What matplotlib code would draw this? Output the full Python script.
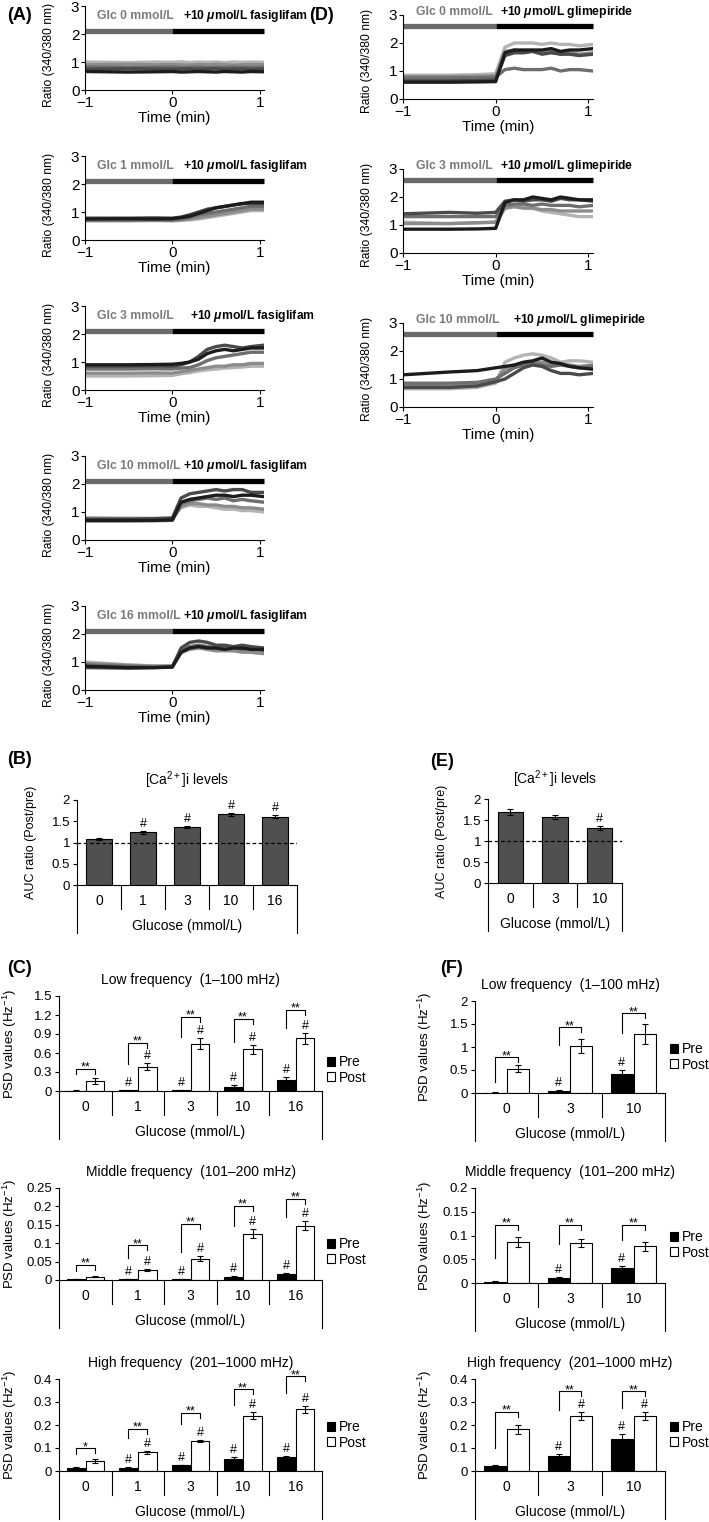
import numpy as np
import matplotlib
matplotlib.use('Agg')
import matplotlib.pyplot as plt
from matplotlib.patches import Patch

plt.rcParams['font.family'] = ['Liberation Sans', 'DejaVu Sans']
plt.rcParams['mathtext.fontset'] = 'custom'
plt.rcParams['mathtext.rm'] = 'Liberation Sans'
plt.rcParams['mathtext.it'] = 'Liberation Sans:italic:bold'
plt.rcParams['mathtext.bf'] = 'Liberation Sans:bold'
plt.rcParams['axes.linewidth'] = 0.8

# ---- Ca2+ traces (ratio 340/380), read at these time points (min) ----
t_min = [-1, -0.5, -0.2, 0, 0.1, 0.2, 0.3, 0.4, 0.5, 0.6, 0.7, 0.8, 0.9, 1.05]
trace_cols = ['#b4b4b4', '#8c8c8c', '#6e6e6e', '#4a4a4a', '#1c1c1c']

# fasiglifam, order: light, gray, mid, dark, black
fas_glc0 = [[1.0, 0.98, 1.0, 0.99, 1.01, 0.98, 1.0, 0.99, 1.0, 0.98, 1.0, 0.99, 1.0, 0.99],
            [0.9, 0.92, 0.9, 0.91, 0.9, 0.89, 0.91, 0.9, 0.92, 0.9, 0.89, 0.9, 0.91, 0.9],
            [0.82, 0.8, 0.81, 0.82, 0.8, 0.81, 0.82, 0.8, 0.81, 0.8, 0.82, 0.81, 0.8, 0.81],
            [0.74, 0.76, 0.75, 0.74, 0.75, 0.76, 0.74, 0.75, 0.76, 0.74, 0.75, 0.75, 0.74, 0.75],
            [0.66, 0.64, 0.65, 0.66, 0.64, 0.65, 0.66, 0.65, 0.64, 0.66, 0.65, 0.64, 0.66, 0.65]]
fas_glc1 = [[0.68, 0.68, 0.69, 0.68, 0.7, 0.72, 0.75, 0.8, 0.85, 0.9, 0.95, 1.0, 1.05, 1.05],
            [0.7, 0.7, 0.71, 0.7, 0.72, 0.75, 0.8, 0.85, 0.9, 0.95, 1.0, 1.05, 1.1, 1.1],
            [0.72, 0.72, 0.73, 0.72, 0.75, 0.8, 0.9, 0.95, 1.0, 1.05, 1.1, 1.15, 1.2, 1.2],
            [0.78, 0.78, 0.79, 0.78, 0.82, 0.9, 1.0, 1.1, 1.15, 1.2, 1.25, 1.3, 1.3, 1.3],
            [0.75, 0.76, 0.75, 0.76, 0.8, 0.85, 0.95, 1.05, 1.15, 1.2, 1.25, 1.3, 1.35, 1.35]]
fas_glc3 = [[0.5, 0.5, 0.51, 0.52, 0.58, 0.62, 0.68, 0.72, 0.75, 0.78, 0.8, 0.82, 0.85, 0.85],
            [0.6, 0.6, 0.61, 0.6, 0.65, 0.7, 0.75, 0.8, 0.85, 0.85, 0.9, 0.9, 0.95, 0.95],
            [0.75, 0.75, 0.76, 0.75, 0.78, 0.8, 0.9, 1.05, 1.15, 1.2, 1.25, 1.3, 1.35, 1.35],
            [0.85, 0.85, 0.86, 0.85, 0.9, 1.0, 1.2, 1.45, 1.55, 1.6, 1.55, 1.5, 1.55, 1.6],
            [0.9, 0.9, 0.91, 0.92, 0.95, 1.0, 1.1, 1.3, 1.4, 1.45, 1.4, 1.45, 1.5, 1.5]]
fas_glc10 = [[0.8, 0.78, 0.78, 0.8, 1.15, 1.25, 1.2, 1.2, 1.15, 1.1, 1.1, 1.05, 1.05, 1.0],
             [0.72, 0.72, 0.72, 0.74, 1.2, 1.3, 1.3, 1.25, 1.25, 1.2, 1.2, 1.15, 1.15, 1.1],
             [0.68, 0.68, 0.69, 0.7, 1.3, 1.4, 1.45, 1.5, 1.45, 1.5, 1.4, 1.45, 1.4, 1.35],
             [0.75, 0.75, 0.76, 0.78, 1.5, 1.65, 1.7, 1.75, 1.8, 1.75, 1.8, 1.8, 1.7, 1.7],
             [0.7, 0.7, 0.7, 0.72, 1.35, 1.45, 1.5, 1.55, 1.6, 1.6, 1.55, 1.6, 1.6, 1.55]]
fas_glc16 = [[1.0, 0.9, 0.86, 0.85, 1.3, 1.5, 1.6, 1.55, 1.5, 1.45, 1.4, 1.4, 1.35, 1.3],
             [0.95, 0.88, 0.85, 0.86, 1.35, 1.45, 1.5, 1.45, 1.4, 1.4, 1.4, 1.35, 1.35, 1.3],
             [0.9, 0.85, 0.82, 0.84, 1.4, 1.55, 1.6, 1.55, 1.5, 1.55, 1.5, 1.45, 1.5, 1.4],
             [0.8, 0.78, 0.8, 0.82, 1.5, 1.7, 1.75, 1.7, 1.6, 1.6, 1.55, 1.6, 1.55, 1.5],
             [0.85, 0.8, 0.8, 0.82, 1.35, 1.5, 1.55, 1.5, 1.5, 1.45, 1.5, 1.5, 1.45, 1.45]]

# glimepiride
gli_glc0 = [[0.85, 0.85, 0.87, 0.9, 1.85, 2.0, 2.0, 2.0, 1.95, 2.0, 1.95, 1.95, 1.9, 1.95],
            [0.8, 0.8, 0.81, 0.82, 1.7, 1.75, 1.7, 1.7, 1.65, 1.7, 1.6, 1.65, 1.6, 1.65],
            [0.75, 0.75, 0.76, 0.78, 1.05, 1.1, 1.05, 1.05, 1.05, 1.1, 1.0, 1.05, 1.05, 1.0],
            [0.65, 0.65, 0.66, 0.68, 1.55, 1.65, 1.65, 1.7, 1.6, 1.65, 1.6, 1.6, 1.55, 1.6],
            [0.6, 0.6, 0.61, 0.62, 1.65, 1.75, 1.75, 1.75, 1.75, 1.8, 1.7, 1.75, 1.75, 1.8]]
gli_glc3 = [[1.1, 1.05, 1.08, 1.1, 1.6, 1.7, 1.65, 1.6, 1.5, 1.45, 1.4, 1.35, 1.3, 1.3],
            [1.05, 1.05, 1.08, 1.1, 1.6, 1.65, 1.6, 1.6, 1.55, 1.55, 1.5, 1.5, 1.5, 1.5],
            [1.3, 1.3, 1.3, 1.3, 1.7, 1.75, 1.75, 1.7, 1.75, 1.7, 1.7, 1.7, 1.65, 1.7],
            [1.4, 1.45, 1.42, 1.45, 1.85, 1.9, 1.85, 1.9, 1.9, 1.85, 1.95, 1.9, 1.9, 1.85],
            [0.85, 0.85, 0.86, 0.88, 1.8, 1.9, 1.9, 2.0, 1.95, 1.9, 2.0, 1.95, 1.9, 1.9]]
gli_glc10 = [[0.65, 0.65, 0.7, 0.85, 1.6, 1.75, 1.85, 1.9, 1.85, 1.75, 1.6, 1.65, 1.65, 1.6],
             [0.8, 0.75, 0.8, 0.95, 1.35, 1.5, 1.55, 1.6, 1.6, 1.55, 1.5, 1.5, 1.45, 1.5],
             [0.85, 0.85, 0.88, 1.0, 1.2, 1.4, 1.5, 1.55, 1.5, 1.45, 1.5, 1.45, 1.4, 1.45],
             [0.7, 0.7, 0.75, 0.9, 1.0, 1.2, 1.4, 1.5, 1.45, 1.3, 1.2, 1.2, 1.15, 1.2],
             [1.15, 1.25, 1.3, 1.4, 1.45, 1.5, 1.6, 1.65, 1.75, 1.6, 1.55, 1.45, 1.4, 1.35]]

# ---- AUC ratio ----
auc_fas_cats = ['0', '1', '3', '10', '16']
auc_fas = [1.08, 1.24, 1.37, 1.66, 1.61]
auc_fas_err = [0.02, 0.03, 0.03, 0.04, 0.03]
auc_fas_hash = [0, 1, 1, 1, 1]
auc_gli_cats = ['0', '3', '10']
auc_gli = [1.69, 1.57, 1.31]
auc_gli_err = [0.07, 0.04, 0.05]
auc_gli_hash = [0, 0, 1]

# ---- PSD values, fasiglifam ----
c_low_pre = [0.005, 0.01, 0.01, 0.07, 0.18]
c_low_pre_err = [0.003, 0.003, 0.003, 0.02, 0.04]
c_low_post = [0.16, 0.385, 0.75, 0.66, 0.83]
c_low_post_err = [0.05, 0.05, 0.08, 0.07, 0.08]
c_mid_pre = [0.002, 0.002, 0.002, 0.009, 0.016]
c_mid_pre_err = [0.0005, 0.0005, 0.0005, 0.001, 0.002]
c_mid_post = [0.009, 0.028, 0.058, 0.126, 0.147]
c_mid_post_err = [0.002, 0.003, 0.007, 0.012, 0.012]
c_high_pre = [0.015, 0.015, 0.026, 0.052, 0.06]
c_high_pre_err = [0.002, 0.003, 0.002, 0.007, 0.007]
c_high_post = [0.043, 0.082, 0.13, 0.24, 0.268]
c_high_post_err = [0.008, 0.007, 0.006, 0.016, 0.016]
c_pre_hash = [0, 1, 1, 1, 1]
c_post_hash = [0, 1, 1, 1, 1]
c_stars_low = ['**'] * 5
c_stars_high = ['*', '**', '**', '**', '**']
# significance bracket levels (top, left leg end)
c_low_br = [0.35, 0.76, 1.17, 1.14, 1.28]
c_low_br_left = [0.27, 0.43, 0.86, 0.78, 0.99]
c_mid_br = [0.041, 0.094, 0.153, 0.202, 0.221]
c_mid_br_left = [0.025, 0.059, 0.075, 0.147, 0.171]
c_high_br = [0.098, 0.183, 0.254, 0.356, 0.412]
c_high_br_left = [0.072, 0.145, 0.204, 0.288, 0.339]

# ---- PSD values, glimepiride ----
f_low_pre = [0.01, 0.05, 0.42]
f_low_pre_err = [0.003, 0.02, 0.09]
f_low_post = [0.53, 1.02, 1.28]
f_low_post_err = [0.07, 0.16, 0.22]
f_mid_pre = [0.003, 0.011, 0.031]
f_mid_pre_err = [0.001, 0.002, 0.005]
f_mid_post = [0.086, 0.084, 0.077]
f_mid_post_err = [0.011, 0.009, 0.009]
f_high_pre = [0.022, 0.065, 0.138]
f_high_pre_err = [0.003, 0.01, 0.022]
f_high_post = [0.182, 0.238, 0.238]
f_high_post_err = [0.02, 0.017, 0.017]
f_pre_hash = [0, 1, 1]
f_post_hash_lm = [0, 0, 0]
f_post_hash_h = [0, 1, 1]
f_low_br = [0.78, 1.43, 1.74]
f_low_br_left = [0.24, 1.04, 1.30]
f_mid_br = [0.123, 0.123, 0.123]
f_mid_br_left = [0.053, 0.083, 0.091]
f_high_br = [0.258, 0.346, 0.346]
f_high_br_left = [0.098, 0.266, 0.273]

W, H = 709, 1522
fig = plt.figure(figsize=(W / 100, H / 100), dpi=100)


def box(x0, y0, x1, y1):
    return [x0 / W, 1 - y1 / H, (x1 - x0) / W, (y1 - y0) / H]


def trace_panel(rect, traces, glc, drug, x_glc, x_drug, y_txt, y_bar, lab_y):
    ax = fig.add_axes(box(*rect))
    for col, vals in zip(trace_cols, traces):
        ax.plot(t_min, vals, color=col, lw=2.4)
    ax.plot([-1, 0], [y_bar, y_bar], color='#6a6a6a', lw=3.8, solid_capstyle='butt', clip_on=False)
    ax.plot([0, 1.05], [y_bar, y_bar], color='black', lw=3.8, solid_capstyle='butt', clip_on=False)
    ax.text(x_glc, y_txt, glc, color='#7a7a7a', fontweight='bold', fontsize=8.7, va='center')
    ax.text(x_drug, y_txt, drug, color='black', fontweight='bold', fontsize=8.7, va='center')
    ax.set_xlim(-1, 1.05)
    ax.set_ylim(0, 3)
    ax.set_xticks([-1, 0, 1], ['\u22121', '0', '1'])
    ax.set_yticks([0, 1, 2, 3])
    ax.spines[['top', 'right']].set_visible(False)
    ax.tick_params(direction='out', length=3, width=0.8, labelsize=11, pad=1)
    ax.set_xlabel('Time (min)', fontsize=11, labelpad=1)
    ax.set_ylabel('Ratio (340/380 nm)', fontsize=8.7)
    wpx = rect[2] - rect[0]
    ax.yaxis.set_label_coords(-30 / wpx, lab_y)
    return ax


def excel_axis(ax, cats, h_px):
    n = len(cats)
    ax.set_xlim(-0.5, n - 0.5)
    ax.set_xticks([])
    tr = ax.get_xaxis_transform()
    for i, c in enumerate(cats):
        ax.text(i, -16 / h_px, c, transform=tr, ha='center', va='center', fontsize=10)
    for b in np.arange(0.5, n - 1, 1):
        ax.plot([b, b], [0, -24 / h_px], transform=tr, color='black', lw=0.8, clip_on=False)
    for b in (-0.5, n - 0.5):
        ax.plot([b, b], [0, -48 / h_px], transform=tr, color='black', lw=0.8, clip_on=False)
    ax.text((n - 1) / 2, -41 / h_px, 'Glucose (mmol/L)', transform=tr,
            ha='center', va='center', fontsize=10)
    ax.spines[['top', 'right']].set_visible(False)


def fmt_ticks(ax, ymax, step):
    ticks = np.round(np.arange(0, ymax + step / 2, step), 3)
    ax.set_ylim(0, ymax)
    ax.set_yticks(ticks, [f'{v:g}' for v in ticks])
    ax.tick_params(axis='y', direction='out', length=3, width=0.8, labelsize=9.5, pad=2)


def auc_panel(rect, cats, vals, errs, hashes, title):
    ax = fig.add_axes(box(*rect))
    h_px = rect[3] - rect[1]
    x = np.arange(len(cats))
    ax.bar(x, vals, width=0.57, color='#505050', edgecolor='black', lw=0.8)
    ax.errorbar(x, vals, yerr=errs, fmt='none', ecolor='black', elinewidth=0.8, capsize=2.5, capthick=0.8)
    ax.plot([-0.5, len(cats) - 0.5], [1, 1], ls=(0, (3, 2)), color='black', lw=0.9)
    for i in range(len(cats)):
        if hashes[i]:
            ax.text(i, vals[i] + errs[i] + 4 * 2 / h_px, '#', ha='center', va='baseline', fontsize=9)
    fmt_ticks(ax, 2, 0.5)
    excel_axis(ax, cats, h_px)
    ax.set_ylabel('AUC ratio (Post/pre)', fontsize=9)
    ax.yaxis.set_label_coords(-40 / (rect[2] - rect[0]), 0.5)
    cx = (rect[0] + rect[2]) / 2
    fig.text(cx / W, 1 - (rect[1] - 20) / H, title, ha='center', va='center', fontsize=10)
    return ax


def psd_panel(rect, cats, pre, pre_e, post, post_e, pre_h, post_h, br, br_left, stars,
              ymax, step, title, leg_xy, lab_px):
    ax = fig.add_axes(box(*rect))
    h_px = rect[3] - rect[1]
    w_px = rect[2] - rect[0]
    u = ymax / h_px
    x = np.arange(len(cats))
    off = 0.18
    ax.bar(x - off, pre, width=0.35, color='black', edgecolor='black', lw=0.8)
    ax.bar(x + off, post, width=0.35, color='white', edgecolor='black', lw=0.8)
    ax.errorbar(x - off, pre, yerr=pre_e, fmt='none', ecolor='black', elinewidth=0.8, capsize=2.5, capthick=0.8)
    ax.errorbar(x + off, post, yerr=post_e, fmt='none', ecolor='black', elinewidth=0.8, capsize=2.5, capthick=0.8)
    for i in range(len(cats)):
        if pre_h[i]:
            ax.text(i - off, pre[i] + pre_e[i] + 4 * u, '#', ha='center', va='baseline', fontsize=9)
        if post_h[i]:
            ax.text(i + off, post[i] + post_e[i] + 4 * u, '#', ha='center', va='baseline', fontsize=9)
        top = br[i]
        ax.plot([i - off, i - off, i + off, i + off], [br_left[i], top, top, top - 5 * u],
                color='black', lw=0.8, clip_on=False)
        ax.text(i, top - 2 * u, stars[i], ha='center', va='baseline', fontsize=9, clip_on=False)
    fmt_ticks(ax, ymax, step)
    excel_axis(ax, cats, h_px)
    ax.set_ylabel('PSD values (Hz$^{-1}$)', fontsize=9.5)
    ax.yaxis.set_label_coords(-(rect[0] - lab_px) / w_px, 0.5)
    cx = (rect[0] + rect[2]) / 2
    fig.text(cx / W, 1 - (rect[1] - 16) / H, title, ha='center', va='center', fontsize=10)
    fig.legend(handles=[Patch(fc='black', ec='black', lw=0.8), Patch(fc='white', ec='black', lw=0.8)],
               labels=['Pre', 'Post'], loc='center left',
               bbox_to_anchor=(leg_xy[0] / W, 1 - leg_xy[1] / H), frameon=False, fontsize=10,
               handlelength=0.6, handleheight=0.6, handletextpad=0.25, labelspacing=0.1,
               borderpad=0, borderaxespad=0)
    return ax


# ---- (A) fasiglifam traces ----
fas_label = '+10 $\\mu$mol/L fasiglifam'
a_sets = [(fas_glc0, 'Glc 0 mmol/L', 0.12), (fas_glc1, 'Glc 1 mmol/L', 0.12),
          (fas_glc3, 'Glc 3 mmol/L', 0.2), (fas_glc10, 'Glc 10 mmol/L', 0.12),
          (fas_glc16, 'Glc 16 mmol/L', 0.12)]
for k, (tr, glc, xd) in enumerate(a_sets):
    top = 6 + 150 * k
    trace_panel((85, top, 264, top + 84), tr, glc, fas_label, -0.86, xd, 2.65, 2.1, 0.42)

# ---- (D) glimepiride traces ----
gli_label = '+10 $\\mu$mol/L glimepiride'
d_sets = [(gli_glc0, 'Glc 0 mmol/L', 0.05, 15), (gli_glc3, 'Glc 3 mmol/L', 0.05, 169),
          (gli_glc10, 'Glc 10 mmol/L', 0.19, 323)]
for tr, glc, xd, top in d_sets:
    trace_panel((403, top, 593, top + 84), tr, glc, gli_label, -0.86, xd, 3.12, 2.6, 0.45)

# ---- (B), (E) AUC ----
auc_panel((77, 800, 297, 885), auc_fas_cats, auc_fas, auc_fas_err, auc_fas_hash, '[Ca$^{2+}$]i levels')
auc_panel((488, 799, 622, 883), auc_gli_cats, auc_gli, auc_gli_err, auc_gli_hash, '[Ca$^{2+}$]i levels')

# ---- (C) PSD fasiglifam ----
psd_panel((59, 996, 322, 1091), auc_fas_cats, c_low_pre, c_low_pre_err, c_low_post, c_low_post_err,
          c_pre_hash, c_post_hash, c_low_br, c_low_br_left, c_stars_low, 1.5, 0.3,
          'Low frequency  (1\u2013100 mHz)', (327, 1070), 19)
psd_panel((59, 1188, 322, 1280), auc_fas_cats, c_mid_pre, c_mid_pre_err, c_mid_post, c_mid_post_err,
          c_pre_hash, c_post_hash, c_mid_br, c_mid_br_left, c_stars_low, 0.25, 0.05,
          'Middle frequency  (101\u2013200 mHz)', (327, 1252), 19)
psd_panel((59, 1379, 322, 1471), auc_fas_cats, c_high_pre, c_high_pre_err, c_high_post, c_high_post_err,
          c_pre_hash, c_post_hash, c_high_br, c_high_br_left, c_stars_high, 0.4, 0.1,
          'High frequency  (201\u20131000 mHz)', (327, 1435), 19)

# ---- (F) PSD glimepiride ----
psd_panel((475, 1001, 665, 1093), auc_gli_cats, f_low_pre, f_low_pre_err, f_low_post, f_low_post_err,
          f_pre_hash, f_post_hash_lm, f_low_br, f_low_br_left, ['**'] * 3, 2, 0.5,
          'Low frequency  (1\u2013100 mHz)', (670, 1057), 434)
psd_panel((475, 1188, 665, 1283), auc_gli_cats, f_mid_pre, f_mid_pre_err, f_mid_post, f_mid_post_err,
          f_pre_hash, f_post_hash_lm, f_mid_br, f_mid_br_left, ['**'] * 3, 0.2, 0.05,
          'Middle frequency  (101\u2013200 mHz)', (670, 1245), 434)
psd_panel((475, 1379, 665, 1471), auc_gli_cats, f_high_pre, f_high_pre_err, f_high_post, f_high_post_err,
          f_pre_hash, f_post_hash_h, f_high_br, f_high_br_left, ['**'] * 3, 0.4, 0.1,
          'High frequency  (201\u20131000 mHz)', (670, 1435), 434)

# panel letters
for lab, x, y in [('(A)', 7, 15), ('(D)', 309, 15), ('(B)', 7, 760), ('(E)', 430, 762),
                  ('(C)', 7, 968), ('(F)', 440, 968)]:
    fig.text(x / W, 1 - y / H, lab, fontsize=13, fontweight='bold', va='center', ha='left')

fig.savefig('out.png', dpi=100)
